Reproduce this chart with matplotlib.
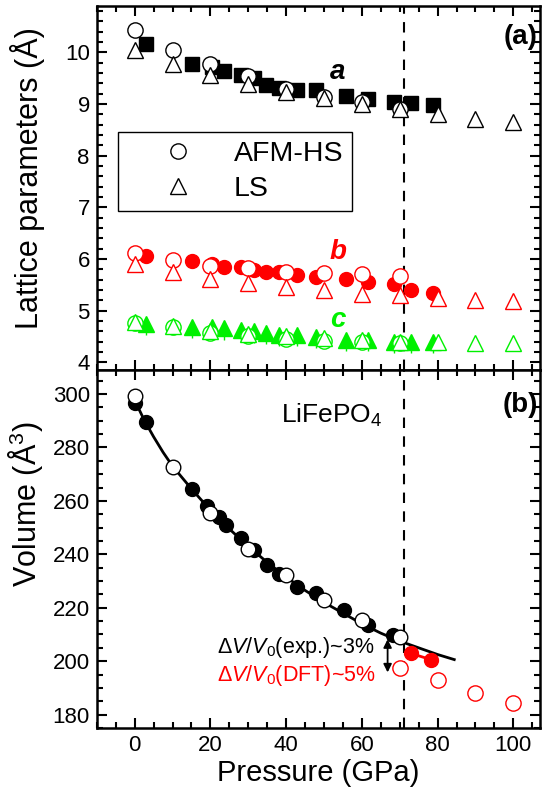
"""Lattice parameters and volume of LiFePO4 under pressure."""
import matplotlib
matplotlib.use("Agg")
import matplotlib.pyplot as plt
from matplotlib.lines import Line2D
from matplotlib.ticker import MultipleLocator
import numpy as np

plt.rcParams["font.family"] = ["Liberation Sans", "DejaVu Sans"]
plt.rcParams["mathtext.fontset"] = "custom"
plt.rcParams["mathtext.rm"] = "Liberation Sans"
plt.rcParams["mathtext.it"] = "Liberation Sans:italic"
plt.rcParams["mathtext.bf"] = "Liberation Sans:bold"

RED = "#FF0000"
GREEN = "#00F000"

# experiment (filled symbols), lattice parameters
p_exp = [2.9, 15.2, 20.3, 23.6, 28.0, 31.5, 34.6, 38.1, 43.0, 48.0, 55.8, 61.5, 68.5, 73.0, 78.7]
a_exp = [10.17, 9.78, 9.72, 9.65, 9.56, 9.50, 9.36, 9.32, 9.28, 9.27, 9.15, 9.10, 9.04, 9.03, 8.99]
b_exp = [6.05, 5.96, 5.91, 5.85, 5.84, 5.78, 5.75, 5.75, 5.69, 5.65, 5.61, 5.55, 5.51, 5.40, 5.34]
c_exp = [4.75, 4.69, 4.69, 4.66, 4.62, 4.60, 4.57, 4.53, 4.53, 4.49, 4.43, 4.43, 4.40, 4.40, 4.40]

# DFT, AFM high spin (circles) up to 70 GPa, low spin (triangles) up to 100 GPa
p_hs = [0, 10, 20, 30, 40, 50, 60, 70]
a_hs = [10.43, 10.04, 9.78, 9.54, 9.30, 9.14, 9.04, 8.91]
b_hs = [6.12, 5.98, 5.86, 5.82, 5.75, 5.72, 5.70, 5.67]
c_hs = [4.76, 4.68, 4.56, 4.50, 4.45, 4.42, 4.39, 4.37]

p_ls = [0, 10, 20, 30, 40, 50, 60, 70, 80, 90, 100]
a_ls = [10.04, 9.78, 9.56, 9.39, 9.23, 9.12, 9.01, 8.91, 8.81, 8.72, 8.65]
b_ls = [5.91, 5.75, 5.62, 5.53, 5.46, 5.40, 5.33, 5.30, 5.25, 5.20, 5.18]
c_ls = [4.78, 4.70, 4.60, 4.54, 4.50, 4.47, 4.43, 4.40, 4.40, 4.38, 4.37]

# volume
p_v_exp = [0, 2.9, 15.2, 19.2, 22.3, 24.0, 28.0, 31.5, 35.0, 38.1, 43.0, 47.8, 55.3, 61.5, 68.1]
v_exp = [296.5, 289.6, 264.3, 258.0, 254.0, 251.0, 246.0, 241.6, 236.0, 232.8, 227.8, 225.4, 219.0, 213.5, 209.7]
p_v_hp = [73.0, 78.2]
v_hp = [202.9, 200.6]

p_v_hs = [0, 10, 20, 30, 40, 50, 60, 70]
v_hs = [299.2, 272.8, 255.3, 242.0, 232.2, 222.8, 215.3, 208.9]
p_v_ls = [70, 80, 90, 100]
v_ls = [197.6, 192.9, 188.1, 184.2]

# EOS fit curve
p_fit = [0, 2.5, 5, 7.5, 10, 15, 20, 25, 30, 35, 40, 45, 50, 55, 60, 65, 70, 75, 80, 84.4]
v_fit = [297.7, 290.3, 284.0, 278.2, 273.0, 264.5, 256.5, 249.5, 243.0, 237.0, 231.5, 226.5,
         222.0, 218.0, 214.0, 210.5, 207.5, 205.0, 202.5, 200.6]

p_transition = 71

fig = plt.figure(figsize=(5.5, 7.97), dpi=100)
ax1 = fig.add_axes([0.176, 0.5358, 0.8055, 0.4567])
ax2 = fig.add_axes([0.176, 0.0866, 0.8055, 0.4492])

open_kw = dict(ls="none", mfc="white", mew=1.0)

# (a) lattice parameters
ax1.plot(p_exp, a_exp, "s", color="black", ms=9.5, ls="none", zorder=3)
ax1.errorbar(p_exp, c_exp, yerr=[[0.22] * len(c_exp), [0] * len(c_exp)], fmt="none",
             ecolor=GREEN, elinewidth=1, zorder=2)
ax1.plot(p_exp, b_exp, "o", color=RED, ms=10, ls="none", zorder=3)
ax1.plot(p_exp, c_exp, "^", color=GREEN, ms=11, ls="none", zorder=3)

ax1.plot(p_hs, a_hs, "o", mec="black", ms=11, zorder=4, **open_kw)
ax1.plot(p_ls, a_ls, "^", mec="black", ms=12, zorder=5, **open_kw)
ax1.plot(p_hs, b_hs, "o", mec=RED, ms=11, zorder=4, **open_kw)
ax1.plot(p_ls, b_ls, "^", mec=RED, ms=12, zorder=5, **open_kw)
ax1.plot(p_hs, c_hs, "o", mec=GREEN, ms=11, zorder=4, **open_kw)
ax1.plot(p_ls, c_ls, "^", mec=GREEN, ms=12, zorder=5, **open_kw)

ax1.text(53.6, 9.62, "a", color="black", fontsize=20, fontweight="bold", fontstyle="italic",
         ha="center", va="center")
ax1.text(53.6, 6.14, "b", color=RED, fontsize=20, fontweight="bold", fontstyle="italic",
         ha="center", va="center")
ax1.text(53.6, 4.82, "c", color=GREEN, fontsize=20, fontweight="bold", fontstyle="italic",
         ha="center", va="center")
ax1.text(0.995, 0.916, "(a)", transform=ax1.transAxes, fontsize=20, fontweight="bold",
         ha="right", va="center")

handles = [
    Line2D([], [], marker="o", mec="black", ms=11, **open_kw),
    Line2D([], [], marker="^", mec="black", ms=12, **open_kw),
]
leg = ax1.legend(handles, ["AFM-HS", "LS"], loc="upper left", bbox_to_anchor=(0.047, 0.654),
                 borderaxespad=0, fontsize=20.5, fancybox=False, edgecolor="black",
                 framealpha=1, borderpad=0.32, labelspacing=0.3, handlelength=3.6,
                 handletextpad=0.15)
leg.get_frame().set_linewidth(1.0)

ax1.set_ylim(3.85, 10.9)
ax1.yaxis.set_major_locator(MultipleLocator(1))
ax1.yaxis.set_minor_locator(MultipleLocator(0.2))
ax1.set_ylabel("Lattice parameters (Å)", fontsize=22)
ax1.tick_params(labelbottom=False)

# (b) volume
ax2.plot(p_fit, v_fit, color="black", lw=2, zorder=2)
ax2.plot(p_v_exp, v_exp, "o", color="black", ms=10, ls="none", zorder=3)
ax2.plot(p_v_hs, v_hs, "o", mec="black", ms=10.5, zorder=4, **open_kw)
ax2.plot(p_v_hp, v_hp, "o-", color=RED, ms=10, lw=2, zorder=3)
ax2.plot(p_v_ls, v_ls, "o", mec=RED, ms=11, zorder=4, **open_kw)

ax2.annotate("", xy=(66.8, 195.8), xytext=(66.8, 208.2),
             arrowprops=dict(arrowstyle="<|-|>", color="black", lw=1.3,
                             mutation_scale=12, shrinkA=0, shrinkB=0))
ax2.text(21.8, 205.3, r"Δ$\mathit{V/V}_{\mathit{0}}$(exp.)~3%", fontsize=15.5,
         color="black", ha="left", va="center")
ax2.text(21.8, 194.8, r"Δ$\mathit{V/V}_{\mathit{0}}$(DFT)~5%", fontsize=15.5,
         color=RED, ha="left", va="center")
ax2.text(38.6, 292.1, r"LiFePO$_4$", fontsize=19, ha="left", va="center")
ax2.text(0.995, 0.902, "(b)", transform=ax2.transAxes, fontsize=20, fontweight="bold",
         ha="right", va="center")

ax2.set_ylim(175, 309)
ax2.yaxis.set_major_locator(MultipleLocator(20))
ax2.yaxis.set_minor_locator(MultipleLocator(5))
ax2.set_ylabel("Volume (Å$^3$)", fontsize=22)
ax2.set_xlabel("Pressure (GPa)", fontsize=21, labelpad=2)

for ax in (ax1, ax2):
    ax.axvline(p_transition, color="black", lw=1.5, ls=(0, (5, 4)), zorder=1)
    ax.set_xlim(-10, 107)
    ax.xaxis.set_major_locator(MultipleLocator(20))
    ax.xaxis.set_minor_locator(MultipleLocator(5))
    ax.tick_params(which="both", direction="in", top=True, right=True, width=1.5,
                   labelsize=16, pad=5)
    ax.tick_params(which="major", length=7)
    ax.tick_params(which="minor", length=4)
    for s in ax.spines.values():
        s.set_linewidth(1.8)

ax1.yaxis.set_label_coords(-0.118, 0.527)
ax2.yaxis.set_label_coords(-0.118, 0.625)

fig.savefig("out.png", dpi=100)
